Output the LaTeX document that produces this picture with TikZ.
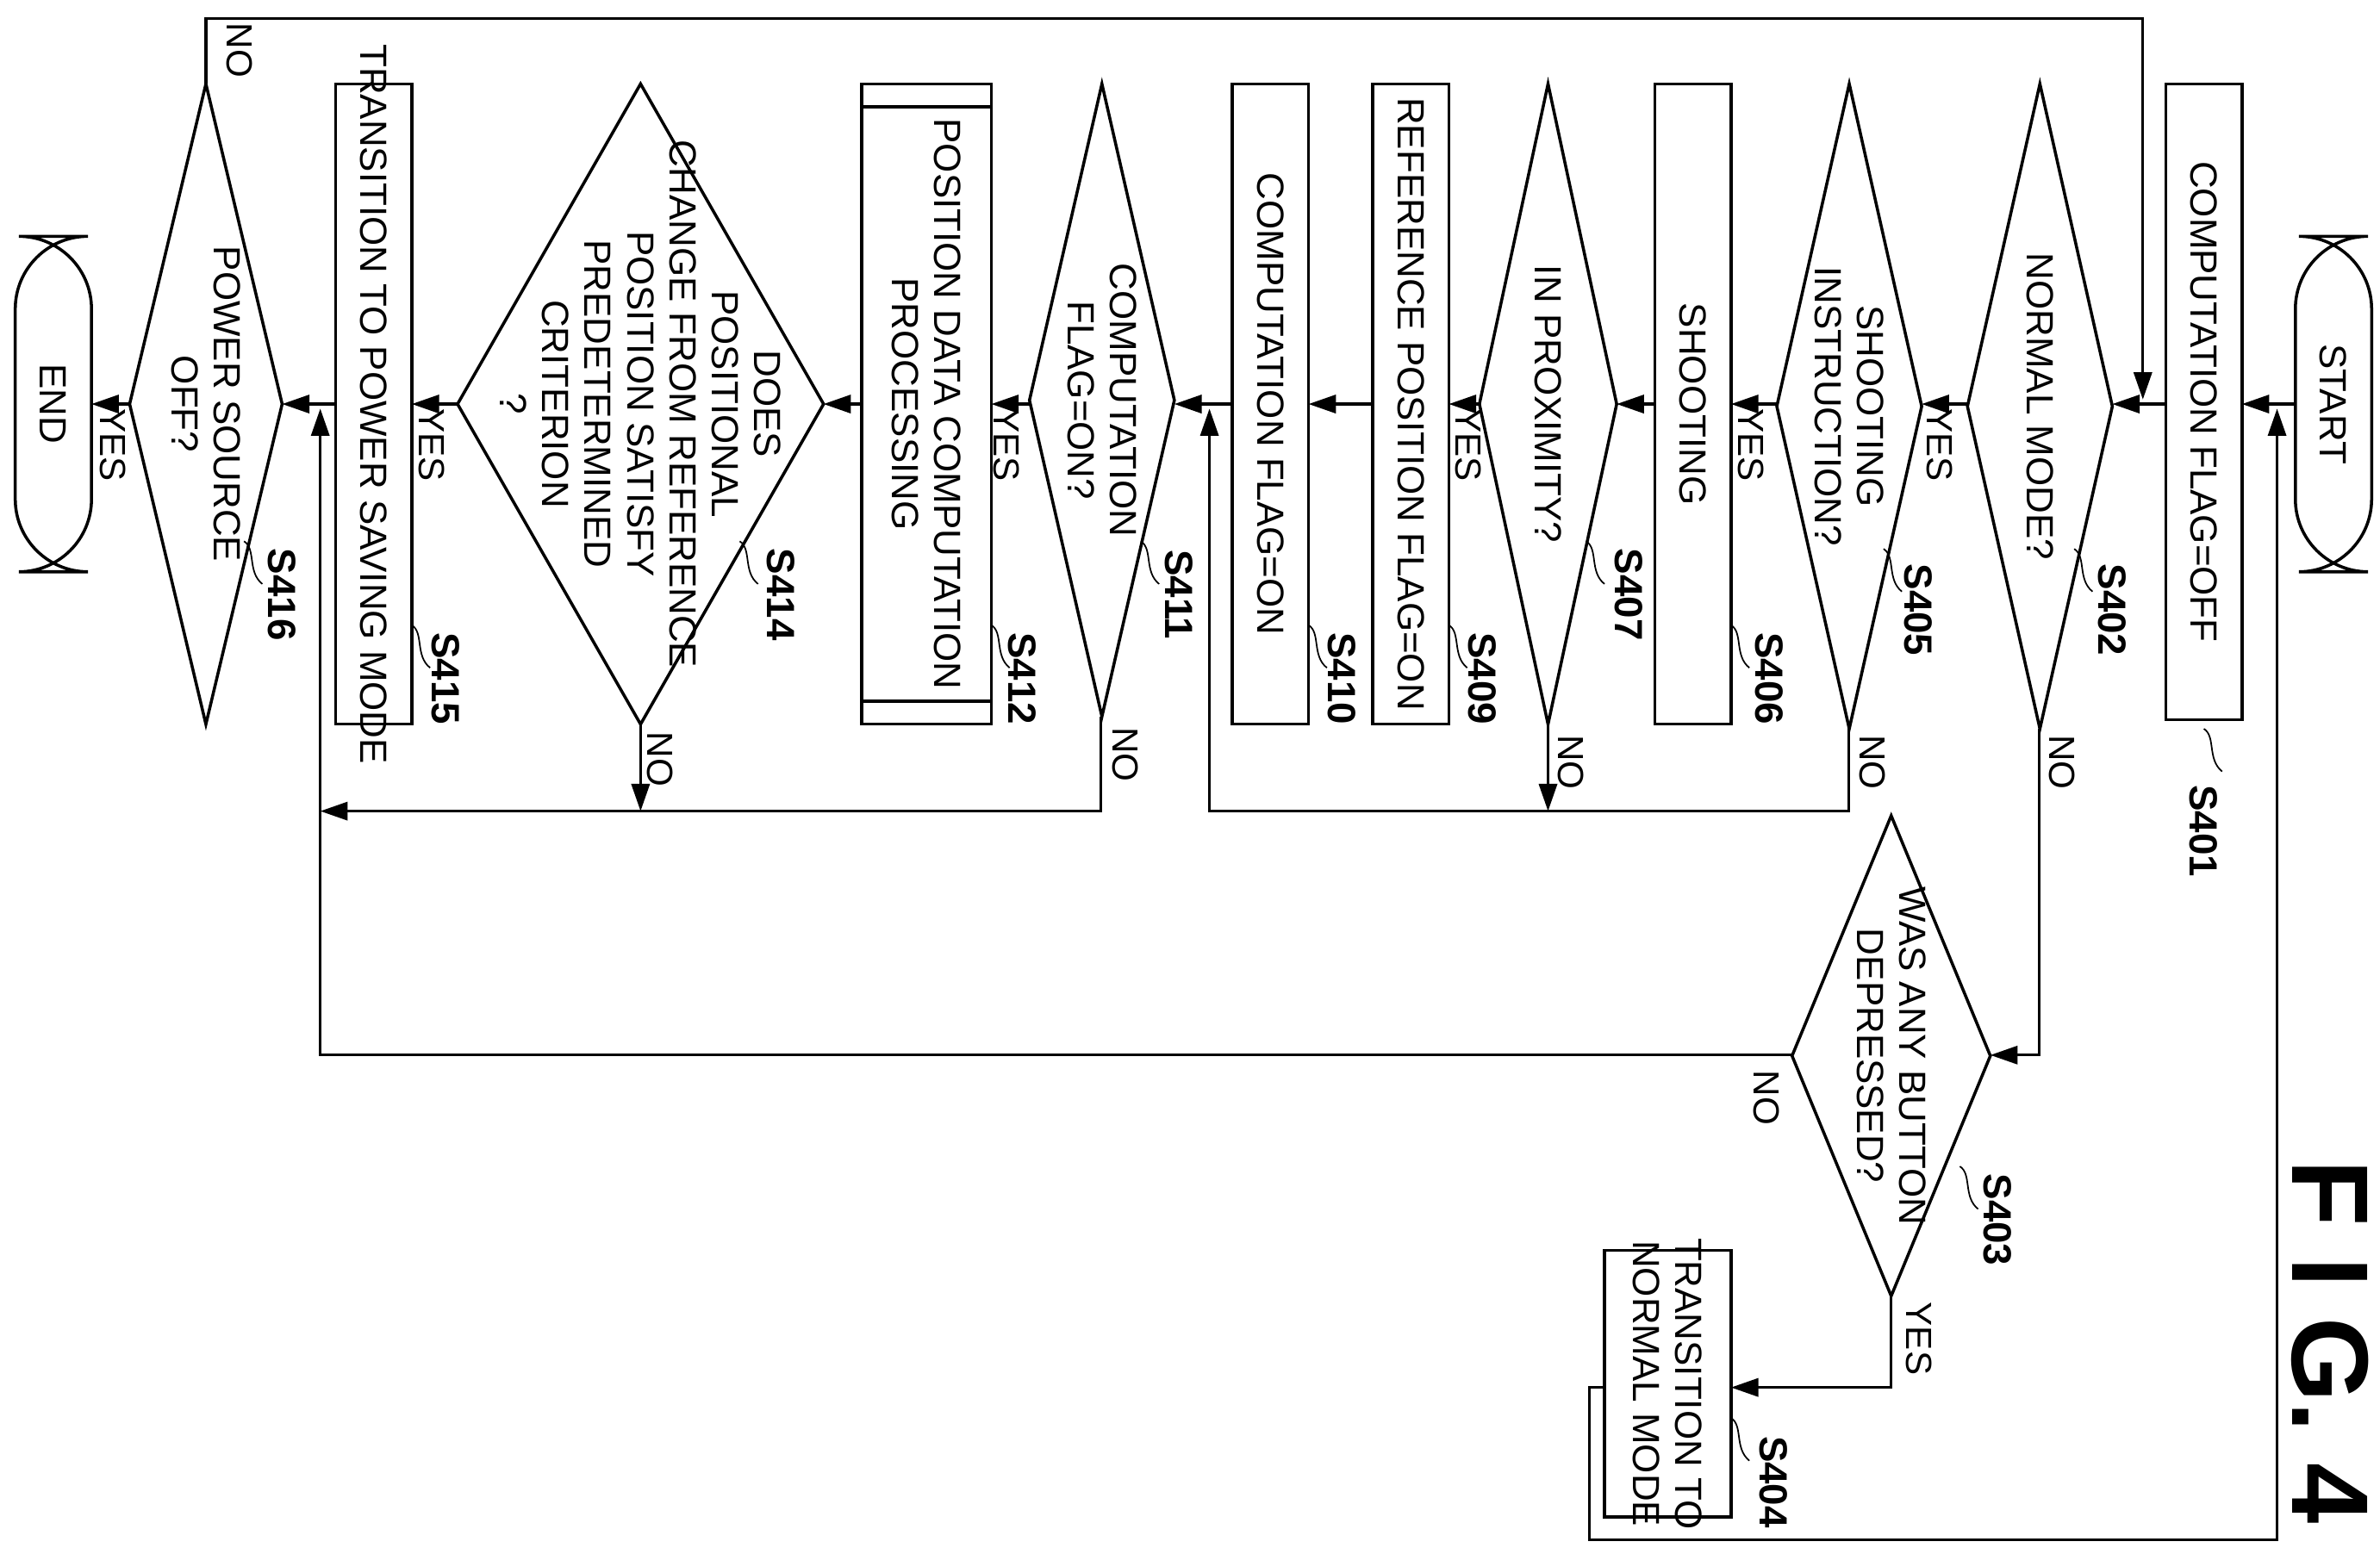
\documentclass[tikz,border=0pt]{standalone}
\usepackage{fontspec}
\setmainfont{Liberation Sans}
\usetikzlibrary{shapes.geometric,arrows.meta}
\begin{document}
\begin{tikzpicture}[x=0.0177cm,y=-0.0177cm,
  every node/.style={font=\fontsize{12.5}{14}\selectfont,rotate=-90,align=center,inner sep=0pt},
  box/.style={draw,line width=1pt},
  ln/.style={line width=0.9pt},
  ar/.style={ln,-{Triangle[length=9pt,width=6pt]}},
  lab/.style={font=\fontsize{13}{15}\selectfont\bfseries},
  yn/.style={font=\fontsize{12}{14}\selectfont}]
\useasboundingbox (0,0) rectangle (1560.5,1019.2);
% shapes
\newcommand\rbox[5]{\draw[box] (#1,#2) rectangle (#3,#4); \node at ({(#1+#3)/2},{(#2+#4)/2}) {#5};}
\newcommand\dia[5]{\draw[box] (#1,{(#2+#4)/2}) -- ({(#1+#3)/2},#2) -- (#3,{(#2+#4)/2}) -- ({(#1+#3)/2},#4) -- cycle; \node at ({(#1+#3)/2},{(#2+#4)/2}) {#5};}
\draw[box,rounded corners=24pt] (1505,155) rectangle (1555,375); \node (start) at (1530,265) {START};
\draw[box,rounded corners=24pt] (10,155) rectangle (60,375); \node (end) at (35,265) {END};
\rbox{1420}{55}{1470}{472}{COMPUTATION FLAG=OFF}
\dia{1290}{55}{1385}{478}{NORMAL MODE?}
\dia{1165}{55}{1260}{478}{SHOOTING\\INSTRUCTION?}
\rbox{1085}{55}{1135}{475}{SHOOTING}
\dia{970}{55}{1060}{475}{IN PROXIMITY?}
\rbox{900}{55}{950}{475}{REFERENCE POSITION FLAG=ON}
\rbox{808}{55}{858}{475}{COMPUTATION FLAG=ON}
\dia{675}{55}{770}{470}{COMPUTATION\\FLAG=ON?}
\rbox{565}{55}{650}{475}{POSITION DATA COMPUTATION\\PROCESSING}
\draw[box] (565,70) -- (650,70) (565,460) -- (650,460);
\dia{300}{55}{540}{475}{DOES\\POSITIONAL\\CHANGE FROM REFERENCE\\POSITION SATISFY\\PREDETERMINED\\CRITERION\\?}
\rbox{220}{55}{270}{475}{TRANSITION TO POWER SAVING MODE}
\dia{85}{55}{185}{475}{POWER SOURCE\\OFF?}
\dia{1175}{535}{1305}{850}{WAS ANY BUTTON\\DEPRESSED?}
\rbox{1052}{820}{1135}{995}{TRANSITION TO\\NORMAL MODE}
\node[font=\fontsize{36}{40}\selectfont\bfseries] at (1528,880) {F I G. 4};
% connectors main line
\draw[ar] (1505,265) -- (1470,265);
\draw[ar] (1420,265) -- (1385,265);
\draw[ar] (1290,265) -- (1260,265);
\draw[ar] (1165,265) -- (1135,265);
\draw[ar] (1085,265) -- (1060,265);
\draw[ar] (970,265) -- (950,265);
\draw[ar] (900,265) -- (858,265);
\draw[ar] (808,265) -- (770,265);
\draw[ar] (675,265) -- (650,265);
\draw[ar] (565,265) -- (540,265);
\draw[ar] (300,265) -- (270,265);
\draw[ar] (220,265) -- (185,265);
\draw[ar] (85,265) -- (60,265);
% loops
\draw[ar] (135,55) -- (135,12) -- (1405,12) -- (1405,262);
\draw[ar] (1052,910) -- (1042,910) -- (1042,1010) -- (1493,1010) -- (1493,268);
\draw[ar] (1337,478) -- (1337,692) -- (1305,692);
\draw[ar] (1240,850) -- (1240,910) -- (1135,910);
\draw[ar] (1175,692) -- (210,692) -- (210,268);
\draw[ar] (1212,478) -- (1212,532) -- (793,532) -- (793,268);
\draw[ar] (1015,475) -- (1015,532);
\draw[ar] (722,470) -- (722,532) -- (210,532);
\draw[ar] (420,475) -- (420,532);
% yes/no
\node[yn] at (1272,292) {YES};
\node[yn] at (1352,500) {NO};
\node[yn] at (1148,292) {YES};
\node[yn] at (1228,500) {NO};
\node[yn] at (963,292) {YES};
\node[yn] at (1030,500) {NO};
\node[yn] at (660,292) {YES};
\node[yn] at (738,495) {NO};
\node[yn] at (283,292) {YES};
\node[yn] at (433,498) {NO};
\node[yn] at (74,292) {YES};
\node[yn] at (157,33) {NO};
\node[yn] at (1258,878) {YES};
\node[yn] at (1158,720) {NO};
% step labels
\newcommand\stp[5]{\draw[line width=0.5pt] (#1,#2) .. controls ({#1+8},{#2+5}) and ({#1+2},{#2+20}) .. ({#1+12},{#2+28}); \node[lab] at (#3,#4) {#5};}
\stp{1445}{478}{1445}{545}{S401}
\stp{1360}{360}{1385}{400}{S402}
\stp{1235}{360}{1258}{400}{S405}
\stp{1135}{410}{1160}{445}{S406}
\stp{1040}{355}{1068}{390}{S407}
\stp{950}{410}{972}{445}{S409}
\stp{858}{410}{880}{445}{S410}
\stp{748}{355}{773}{390}{S411}
\stp{650}{410}{670}{445}{S412}
\stp{485}{355}{512}{390}{S414}
\stp{270}{410}{292}{445}{S415}
\stp{160}{355}{185}{390}{S416}
\stp{1285}{765}{1310}{800}{S403}
\stp{1135}{930}{1163}{972}{S404}
\end{tikzpicture}
\end{document}
